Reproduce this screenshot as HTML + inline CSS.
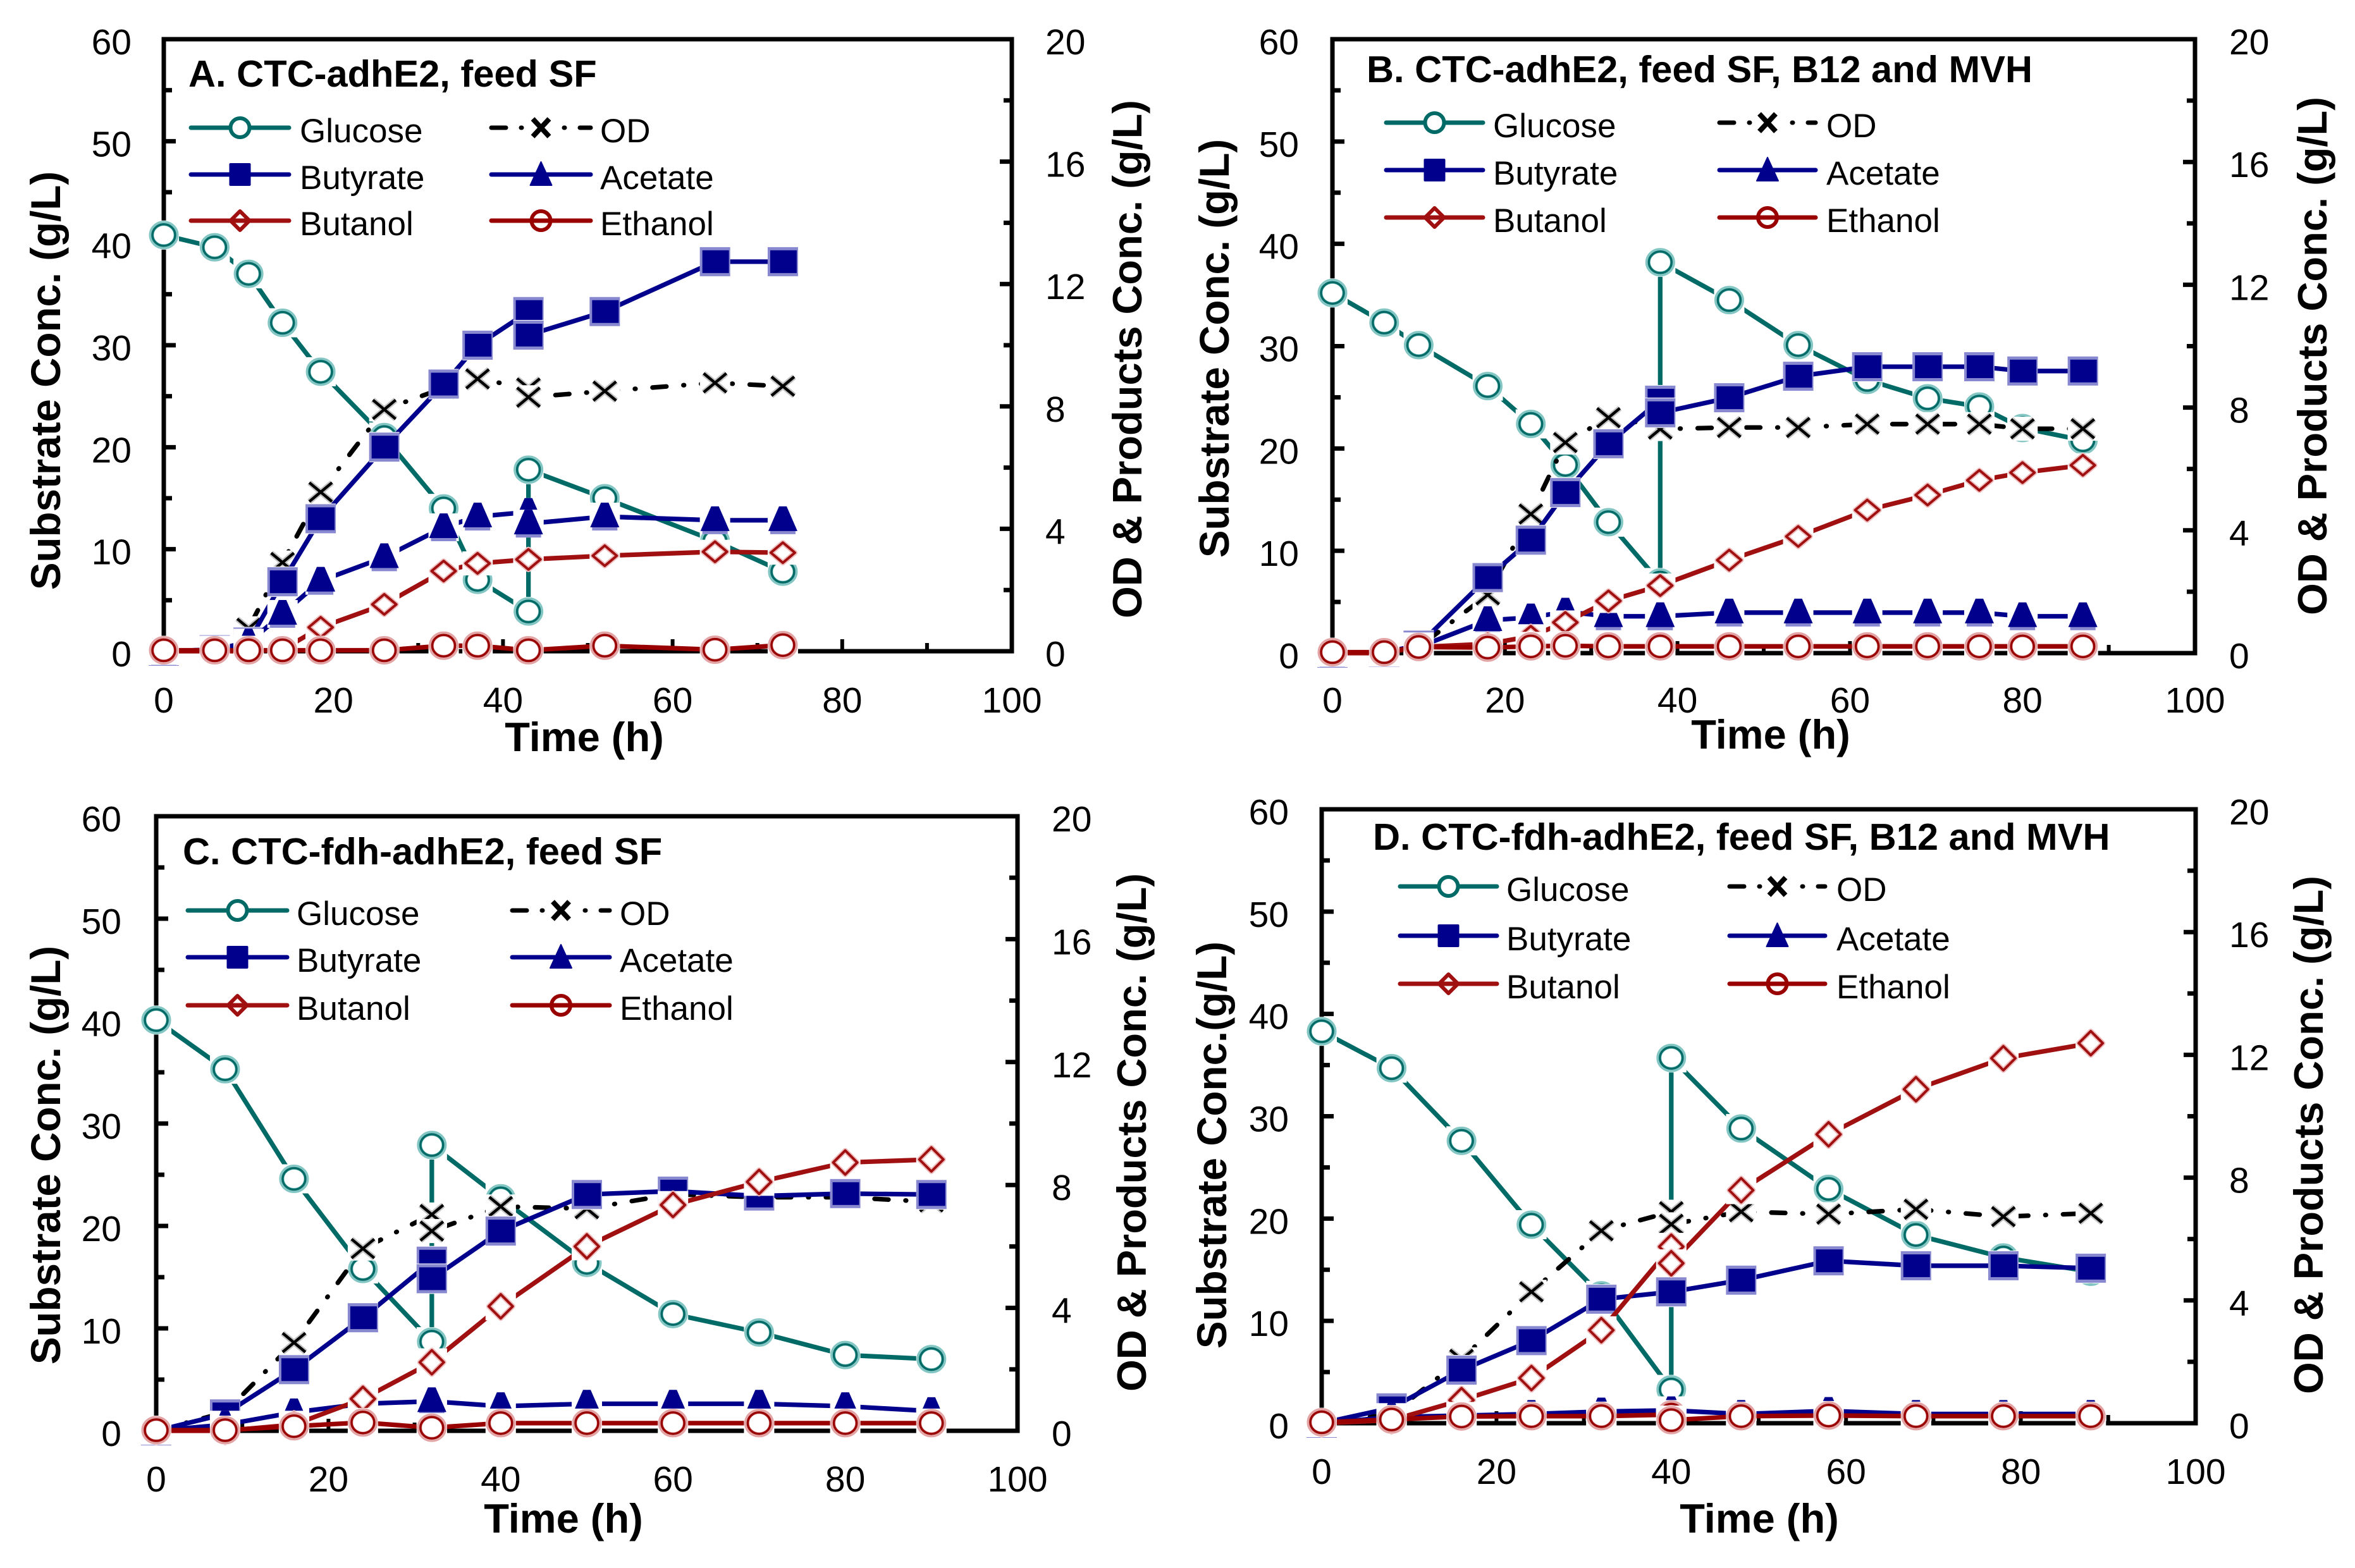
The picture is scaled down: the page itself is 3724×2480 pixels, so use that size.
<!DOCTYPE html>
<html lang="en">
<head>
<meta charset="utf-8">
<title>Fermentation kinetics panels</title>
<style>
html,body{margin:0;padding:0;background:#fff;}
svg{display:block;font-family:"Liberation Sans",Arial,sans-serif;}
</style>
</head>
<body>
<svg id="figure" xmlns="http://www.w3.org/2000/svg" width="3724" height="2480" viewBox="0 0 3724 2480">
<rect x="0" y="0" width="3724" height="2480" fill="#ffffff"/>
</svg>
<script>
// Axis tick labels
const leftTickLabels = [0, 10, 20, 30, 40, 50, 60];
const leftMinorTicks = [5, 15, 25, 35, 45, 55];
const rightTickLabels = [0, 4, 8, 12, 16, 20];
const rightMinorTicks = [2, 6, 10, 14, 18];
const xTickLabels = [0, 20, 40, 60, 80, 100];
const xMinorTicks = [10, 30, 50, 70, 90];

// Panel A
const aTime = [0, 6, 10, 14, 18.5, 26, 33, 37, 43, 43, 52, 65, 73];
const aGlucose = [40.8, 39.6, 37, 32.2, 27.4, 21, 14, 7, 3.9, 17.8, 15, 10.8, 7.8];
const aOD = [0, 0.05, 0.75, 2.9, 5.2, 7.9, 8.6, 8.9, 8.6, 8.3, 8.5, 8.77, 8.66];
const aButyrate = [0, 0.05, 0.3, 2.27, 4.33, 6.67, 8.73, 10, 11.1, 10.33, 11.1, 12.73, 12.73];
const aAcetate = [0, 0.05, 0.28, 1.22, 2.3, 3.07, 4.05, 4.4, 4.55, 4.17, 4.4, 4.28, 4.28];
const aButanol = [0, 0, 0, 0.05, 0.78, 1.53, 2.62, 2.87, 3, 3, 3.12, 3.25, 3.22];
const aEthanol = [0.03, 0.03, 0.03, 0.03, 0.03, 0.03, 0.18, 0.18, 0.03, 0.03, 0.18, 0.05, 0.2];

// Panel B
const bTime = [0, 6, 10, 18, 23, 27, 32, 38, 38, 46, 54, 62, 69, 75, 80, 87];
const bGlucose = [35.2, 32.3, 30.1, 26.1, 22.4, 18.4, 12.8, 6.9, 38.2, 34.5, 30.1, 26.7, 24.9, 24.1, 22, 20.8];
const bOD = [0, 0.02, 0.2, 1.9, 4.53, 6.86, 7.67, 7.4, 7.3, 7.35, 7.35, 7.46, 7.46, 7.46, 7.31, 7.31];
const bButyrate = [0, 0.02, 0.26, 2.46, 3.68, 5.23, 6.82, 8.24, 7.83, 8.32, 9.02, 9.33, 9.33, 9.33, 9.19, 9.19];
const bAcetate = [0, 0.02, 0.2, 1.07, 1.16, 1.35, 1.2, 1.2, 1.2, 1.32, 1.32, 1.32, 1.32, 1.32, 1.2, 1.2];
const bButanol = [0, 0, 0.2, 0.3, 0.55, 1, 1.7, 2.2, 2.2, 3.03, 3.8, 4.66, 5.15, 5.63, 5.88, 6.12];
const bEthanol = [0.03, 0.03, 0.2, 0.18, 0.22, 0.24, 0.22, 0.22, 0.22, 0.22, 0.22, 0.22, 0.22, 0.22, 0.22, 0.22];

// Panel C
const cTime = [0, 8, 16, 24, 32, 32, 40, 50, 60, 70, 80, 90];
const cGlucose = [40.1, 35.3, 24.6, 15.8, 8.7, 27.9, 22.7, 16.4, 11.4, 9.6, 7.4, 7];
const cOD = [0, 0.6, 2.87, 5.93, 7.04, 6.5, 7.3, 7.23, 7.7, 7.6, 7.6, 7.45];
const cButyrate = [0, 0.55, 1.99, 3.68, 5.52, 4.95, 6.5, 7.69, 7.8, 7.64, 7.72, 7.69];
const cAcetate = [0, 0.2, 0.6, 0.88, 0.96, 0.96, 0.8, 0.88, 0.88, 0.88, 0.8, 0.64];
const cButanol = [0, 0, 0.2, 1.04, 2.23, 2.23, 4.05, 6, 7.35, 8.1, 8.73, 8.83];
const cEthanol = [0.02, 0.02, 0.15, 0.27, 0.1, 0.1, 0.25, 0.25, 0.25, 0.25, 0.25, 0.25];

// Panel D
const dTime = [0, 8, 16, 24, 32, 40, 40, 48, 58, 68, 78, 88];
const dGlucose = [38.3, 34.7, 27.6, 19.4, 12.5, 3.3, 35.7, 28.8, 22.9, 18.4, 16.2, 14.8];
const dOD = [0, 0.3, 2.08, 4.28, 6.27, 6.89, 6.48, 6.89, 6.81, 6.97, 6.73, 6.84];
const dButyrate = [0, 0.5, 1.73, 2.69, 4.04, 4.28, 4.28, 4.66, 5.29, 5.13, 5.13, 5.05];
const dAcetate = [0, 0.2, 0.25, 0.3, 0.38, 0.42, 0.42, 0.3, 0.4, 0.3, 0.3, 0.3];
const dButanol = [0, 0.1, 0.75, 1.47, 3.03, 5.75, 5.21, 7.59, 9.41, 10.88, 11.89, 12.38];
const dEthanol = [0.03, 0.12, 0.22, 0.23, 0.23, 0.28, 0.1, 0.23, 0.25, 0.23, 0.23, 0.23];

const NS = 'http://www.w3.org/2000/svg';
const figure = document.getElementById('figure');

const seriesStyle = {
  Glucose: {color: '#006a66', fringe: '#84c6c3', shape: 'circle', axis: 'left'},
  OD: {color: '#000000', fringe: '#c4c4c4', shape: 'cross', axis: 'right', dash: '22 27 1 27'},
  Butyrate: {color: '#00008c', fringe: '#8888d0', shape: 'square', axis: 'right'},
  Acetate: {color: '#00008c', fringe: '#8888d0', shape: 'triangle', axis: 'right'},
  Butanol: {color: '#a01010', fringe: '#eebcbc', shape: 'diamond', axis: 'right'},
  Ethanol: {color: '#990000', fringe: '#e2a4a4', shape: 'circle', axis: 'right'}
};
const legendDash = '23 24 1 67 1 24 17';
const drawOrder = ['Glucose', 'OD', 'Butyrate', 'Acetate', 'Butanol', 'Ethanol'];
const legendGrid = [['Glucose', 'OD'], ['Butyrate', 'Acetate'], ['Butanol', 'Ethanol']];

const panels = [
  {key: 'a', title: 'A. CTC-adhE2, feed SF', leftTitle: 'Substrate Conc. (g/L)',
   series: {time: aTime, Glucose: aGlucose, OD: aOD, Butyrate: aButyrate, Acetate: aAcetate, Butanol: aButanol, Ethanol: aEthanol},
   box: {L: 259, R: 1600, T: 62, B: 1030}, titlePos: [298, 137], diamondH: 16,
   leftEnd: 208, rightStart: 1653, xBase: 1127, timePos: [924, 1188],
   leftTitlePos: [95, 602], rightTitlePos: [1805, 568],
   legendCols: [[302, 457, 474], [777, 934, 949]], legendRows: [202, 276, 349]},
  {key: 'b', title: 'B. CTC-adhE2, feed SF, B12 and MVH', leftTitle: 'Substrate Conc. (g/L)',
   series: {time: bTime, Glucose: bGlucose, OD: bOD, Butyrate: bButyrate, Acetate: bAcetate, Butanol: bButanol, Ethanol: bEthanol},
   box: {L: 2107, R: 3471, T: 62, B: 1033}, titlePos: [2161, 130], diamondH: 16,
   leftEnd: 2054, rightStart: 3525, xBase: 1127, timePos: [2800, 1184],
   leftTitlePos: [1943, 551], rightTitlePos: [3679, 563],
   legendCols: [[2192, 2345, 2361], [2719, 2871, 2888]], legendRows: [194, 269, 344]},
  {key: 'c', title: 'C. CTC-fdh-adhE2, feed SF', leftTitle: 'Substrate Conc. (g/L)',
   series: {time: cTime, Glucose: cGlucose, OD: cOD, Butyrate: cButyrate, Acetate: cAcetate, Butanol: cButanol, Ethanol: cEthanol},
   box: {L: 247, R: 1609, T: 1291, B: 2263}, titlePos: [289, 1367], diamondH: 19,
   leftEnd: 192, rightStart: 1663, xBase: 2359, timePos: [891, 2424],
   leftTitlePos: [95, 1827], rightTitlePos: [1812, 1791],
   legendCols: [[297, 454, 469], [810, 964, 980]], legendRows: [1440, 1514, 1590]},
  {key: 'd', title: 'D. CTC-fdh-adhE2, feed SF, B12 and MVH', leftTitle: 'Substrate Conc.(g/L)',
   series: {time: dTime, Glucose: dGlucose, OD: dOD, Butyrate: dButyrate, Acetate: dAcetate, Butanol: dButanol, Ethanol: dEthanol},
   box: {L: 2090, R: 3472, T: 1280, B: 2251}, titlePos: [2171, 1344], diamondH: 19,
   leftEnd: 2038, rightStart: 3525, xBase: 2347, timePos: [2782, 2424],
   leftTitlePos: [1939, 1811], rightTitlePos: [3673, 1795],
   legendCols: [[2214, 2367, 2382], [2735, 2886, 2904]], legendRows: [1402, 1480, 1556]}
];

function shapeEl(parent, tag, attrs) {
  const el = document.createElementNS(NS, tag);
  for (const k in attrs) el.setAttribute(k, attrs[k]);
  parent.appendChild(el);
  return el;
}

function addText(parent, str, x, y, size, weight, anchor, rotate) {
  const el = shapeEl(parent, 'text', {
    x: x, y: y, 'font-size': size, 'font-weight': weight, 'text-anchor': anchor, fill: '#000000'
  });
  if (rotate) el.setAttribute('transform', 'rotate(-90 ' + x + ' ' + y + ')');
  el.textContent = str;
  return el;
}

function blank(g, x, y, w, h) {
  shapeEl(g, 'rect', {x: x - w / 2, y: y - h / 2, width: w, height: h, fill: '#ffffff'});
}

function drawMarker(parent, name, x, y, legend, diamondH) {
  const st = seriesStyle[name];
  const g = shapeEl(parent, 'g', {});
  
  
  if (st.shape === 'circle') {
    if (legend) {
      shapeEl(g, 'circle', {cx: x, cy: y, r: 15, fill: name === 'Glucose' ? '#ffffff' : 'none', stroke: st.color, 'stroke-width': 6});
    } else {
      blank(g, x, y, 48, 46);
      shapeEl(g, 'ellipse', {cx: x, cy: y, rx: 19.5, ry: 18.5, fill: 'none', stroke: st.fringe, 'stroke-width': 8});
      shapeEl(g, 'ellipse', {cx: x, cy: y, rx: 18, ry: 17, fill: 'none', stroke: st.color, 'stroke-width': 3.5});
    }
  } else if (st.shape === 'square') {
    if (legend) {
      shapeEl(g, 'rect', {x: x - 17, y: y - 18, width: 34, height: 36, rx: 2, fill: st.color});
    } else {
      blank(g, x, y, 48, 48);
      shapeEl(g, 'rect', {x: x - 24, y: y - 23, width: 48, height: 46, fill: st.fringe});
      shapeEl(g, 'rect', {x: x - 20, y: y - 18, width: 42, height: 36, fill: st.color});
    }
  } else if (st.shape === 'triangle') {
    if (legend) {
      shapeEl(g, 'polygon', {points: (x - 17) + ',' + (y + 17) + ' ' + (x + 17) + ',' + (y + 17) + ' ' + x + ',' + (y - 20), fill: st.color, stroke: st.color, 'stroke-width': 2, 'stroke-linejoin': 'round'});
    } else {
      blank(g, x, y, 48, 44);
      shapeEl(g, 'rect', {x: x - 20, y: y + 16, width: 40, height: 6, fill: st.fringe});
      shapeEl(g, 'polygon', {points: (x - 23) + ',' + (y + 17) + ' ' + (x + 23) + ',' + (y + 17) + ' ' + (x + 6) + ',' + (y - 22) + ' ' + (x - 6) + ',' + (y - 22), fill: st.color});
    }
  } else if (st.shape === 'diamond') {
    if (legend) {
      const lp = x + ',' + (y - 15) + ' ' + (x + 15) + ',' + y + ' ' + x + ',' + (y + 15) + ' ' + (x - 15) + ',' + y;
      shapeEl(g, 'polygon', {points: lp, fill: 'none', stroke: st.color, 'stroke-width': 6, 'stroke-linejoin': 'round'});
    } else {
      const hw = 19;
      const hh = diamondH;
      const dp = x + ',' + (y - hh) + ' ' + (x + hw) + ',' + y + ' ' + x + ',' + (y + hh) + ' ' + (x - hw) + ',' + y;
      blank(g, x, y, 48, 2 * hh + 6);
      shapeEl(g, 'polygon', {points: dp, fill: 'none', stroke: st.fringe, 'stroke-width': 8, 'stroke-linejoin': 'round'});
      shapeEl(g, 'polygon', {points: dp, fill: 'none', stroke: st.color, 'stroke-width': 4, 'stroke-linejoin': 'round'});
    }
  } else {
    const hw = legend ? 13 : 18;
    const hh = legend ? 14 : 15;
    const d = 'M' + (x - hw) + ' ' + (y - hh) + 'L' + (x + hw) + ' ' + (y + hh) + 'M' + (x + hw) + ' ' + (y - hh) + 'L' + (x - hw) + ' ' + (y + hh);
    if (!legend) {
      blank(g, x, y, 48, 38);
      shapeEl(g, 'path', {d: d, fill: 'none', stroke: st.fringe, 'stroke-width': 9});
    }
    shapeEl(g, 'path', {d: d, fill: 'none', stroke: st.color, 'stroke-width': legend ? 8 : 4.5});
  }
}

panels.forEach(function (p) {
  const box = p.box;
  const xScale = function (t) { return box.L + (t / 100) * (box.R - box.L); };
  const yLeft = function (v) { return box.B - (v / 60) * (box.B - box.T); };
  const yRight = function (v) { return box.B - (v / 20) * (box.B - box.T); };

  const panel = shapeEl(figure, 'g', {});
  
  

  const frame = shapeEl(panel, 'rect', {x: box.L, y: box.T, width: box.R - box.L, height: box.B - box.T, fill: 'none', stroke: '#000000', 'stroke-width': 7});
  
  

  // left axis
  leftTickLabels.forEach(function (v) {
    const y = yLeft(v);
    const tick = shapeEl(panel, 'line', {x1: box.L, x2: box.L + 19, y1: y, y2: y, stroke: '#000000', 'stroke-width': 7});
    
    
    const label = addText(panel, String(v), p.leftEnd, y + 24, 57, 'normal', 'end', false);
    
    
  });
  leftMinorTicks.forEach(function (v) {
    const y = yLeft(v);
    const tick = shapeEl(panel, 'line', {x1: box.L, x2: box.L + 13, y1: y, y2: y, stroke: '#000000', 'stroke-width': 7});
    
    
  });

  // right axis
  rightTickLabels.forEach(function (v) {
    const y = yRight(v);
    const tick = shapeEl(panel, 'line', {x1: box.R, x2: box.R - 19, y1: y, y2: y, stroke: '#000000', 'stroke-width': 7});
    
    
    const label = addText(panel, String(v), p.rightStart, y + 24, 57, 'normal', 'start', false);
    
    
  });
  rightMinorTicks.forEach(function (v) {
    const y = yRight(v);
    const tick = shapeEl(panel, 'line', {x1: box.R, x2: box.R - 13, y1: y, y2: y, stroke: '#000000', 'stroke-width': 7});
    
    
  });

  // x axis
  xTickLabels.forEach(function (v) {
    const x = xScale(v);
    const tick = shapeEl(panel, 'line', {x1: x, x2: x, y1: box.B, y2: box.B - 19, stroke: '#000000', 'stroke-width': 6});
    
    
    const label = addText(panel, String(v), x, p.xBase, 57, 'normal', 'middle', false);
    
    
  });
  xMinorTicks.forEach(function (v) {
    const x = xScale(v);
    const tick = shapeEl(panel, 'line', {x1: x, x2: x, y1: box.B, y2: box.B - 13, stroke: '#000000', 'stroke-width': 6});
    
    
  });

  // titles
  const chartTitle = addText(panel, p.title, p.titlePos[0], p.titlePos[1], 59.6, 'bold', 'start', false);
  
  
  const xTitle = addText(panel, 'Time (h)', p.timePos[0], p.timePos[1], 65, 'bold', 'middle', false);
  
  
  const leftTitle = addText(panel, p.leftTitle, p.leftTitlePos[0], p.leftTitlePos[1], 65.5, 'bold', 'middle', true);
  
  
  const rightTitle = addText(panel, 'OD & Products Conc. (g/L)', p.rightTitlePos[0], p.rightTitlePos[1], 65, 'bold', 'middle', true);
  
  

  // legend
  const legend = shapeEl(panel, 'g', {});
  
  
  legendGrid.forEach(function (row, r) {
    row.forEach(function (name, c) {
      const col = p.legendCols[c];
      const y = p.legendRows[r];
      const st = seriesStyle[name];
      const entry = shapeEl(legend, 'g', {});
      
      
      const swatch = shapeEl(entry, 'line', {x1: col[0], x2: col[1], y1: y, y2: y, stroke: st.color, 'stroke-width': 7, 'stroke-linecap': 'round'});
      if (st.dash) swatch.setAttribute('stroke-dasharray', legendDash);
      
      
      drawMarker(entry, name, (col[0] + col[1]) / 2, y, true, 15);
      const label = addText(entry, name, col[2], y + 23, 53, 'normal', 'start', false);
      
      
    });
  });

  // series
  drawOrder.forEach(function (name) {
    const st = seriesStyle[name];
    const values = p.series[name];
    const yScale = st.axis === 'left' ? yLeft : yRight;
    const group = shapeEl(panel, 'g', {});
    
    
    const pts = values.map(function (v, i) { return xScale(p.series.time[i]) + ',' + yScale(v); }).join(' ');
    const line = shapeEl(group, 'polyline', {points: pts, fill: 'none', stroke: st.color, 'stroke-width': 7.3, 'stroke-linejoin': 'round', 'stroke-linecap': st.dash ? 'round' : 'butt'});
    if (st.dash) line.setAttribute('stroke-dasharray', st.dash);
    
    
    values.forEach(function (v, i) {
      drawMarker(group, name, xScale(p.series.time[i]), yScale(v), false, p.diamondH);
    });
  });
});
</script>
</body>
</html>
